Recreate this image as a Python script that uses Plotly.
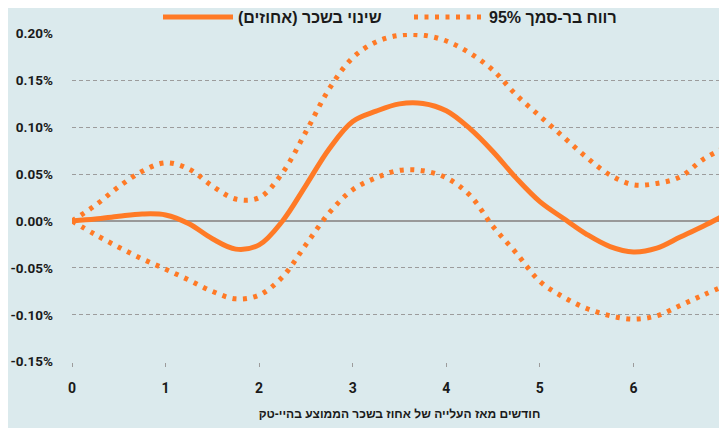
import plotly.graph_objects as go

# months since wage increase
months = [0, 0.25, 0.5, 0.75, 1, 1.25, 1.5, 1.75, 2, 2.25, 2.5, 2.75, 3, 3.25, 3.5, 3.75,
          4, 4.25, 4.5, 4.75, 5, 5.25, 5.5, 5.75, 6, 6.25, 6.5, 6.75, 7]

# change in wage (percent)
wage_change = [0.000, 0.002, 0.005, 0.0074, 0.0064, -0.003, -0.019, -0.030, -0.0255, 0.000,
               0.038, 0.077, 0.106, 0.117, 0.1248, 0.1252, 0.1174, 0.0986, 0.0738, 0.0454,
               0.0206, 0.0029, -0.0142, -0.0273, -0.033, -0.029, -0.0172, -0.0053, 0.0075]

# 95% confidence interval bounds
ci_upper = [0.000, 0.0167, 0.0365, 0.0529, 0.062, 0.0553, 0.0372, 0.0234, 0.0248, 0.0514,
            0.095, 0.141, 0.174, 0.1908, 0.1979, 0.198, 0.1918, 0.179, 0.1606, 0.134,
            0.1117, 0.0897, 0.0677, 0.049, 0.0386, 0.040, 0.047, 0.066, 0.079]

ci_lower = [0.000, -0.0146, -0.028, -0.0404, -0.0514, -0.063, -0.075, -0.083, -0.079, -0.0596,
            -0.0252, 0.0088, 0.0333, 0.046, 0.0539, 0.0535, 0.046, 0.0277, -0.006, -0.0344,
            -0.0645, -0.081, -0.0933, -0.101, -0.1046, -0.101, -0.0901, -0.0787, -0.068]

y_ticks = [-0.15, -0.10, -0.05, 0.00, 0.05, 0.10, 0.15, 0.20]
y_tick_labels = ["-0.15%", "-0.10%", "-0.05%", "0.00%", "0.05%", "0.10%", "0.15%", "0.20%"]
x_ticks = [0, 1, 2, 3, 4, 5, 6, 7]
x_tick_labels = ["0", "1", "2", "3", "4", "5", "6", "7"]

name_main = "\u200fשינוי בשכר (אחוזים)\u200f"
name_ci = "\u200fרווח בר-סמך 95%\u200f"
x_title = "חודשים מאז העלייה של אחוז בשכר הממוצע בהיי-טק"

ORANGE = "#FF7A26"
BG = "#dbeaed"
GRID = "#9c9c9c"
TXT = "#1a1a1a"
FONT = "Roboto, 'Liberation Sans', 'DejaVu Sans', sans-serif"
HEB = "'Liberation Sans', Arial, 'DejaVu Sans', sans-serif"

# the page body has an 8px margin, so the figure is sized to the visible area
W, H = 719, 420

fig = go.Figure()
fig.add_trace(go.Scatter(x=months, y=wage_change, mode="lines", name=name_main,
                         line=dict(color=ORANGE, width=5, shape="spline", smoothing=1.0),
                         legend="legend"))
fig.add_trace(go.Scatter(x=months, y=ci_upper, mode="lines", name=name_ci,
                         line=dict(color=ORANGE, width=5, shape="spline", smoothing=1.0, dash="4px,6.5px"),
                         legendgroup="ci", legend="legend2"))
fig.add_trace(go.Scatter(x=months, y=ci_lower, mode="lines", name=name_ci,
                         line=dict(color=ORANGE, width=5, shape="spline", smoothing=1.0, dash="4px,6.5px"),
                         legendgroup="ci", showlegend=False, legend="legend2"))

legend_common = dict(orientation="h", xanchor="left", yanchor="middle",
                     xref="container", yref="container", y=1 - 9 / H,
                     bgcolor="rgba(0,0,0,0)", itemwidth=70,
                     font=dict(family=HEB, size=16, color=TXT, weight="bold"))

fig.update_layout(
    width=W, height=H,
    margin=dict(l=64, r=0, t=25, b=66, autoexpand=False),
    paper_bgcolor=BG, plot_bgcolor=BG,
    font=dict(family=FONT, size=13, color=TXT),
    showlegend=True,
    legend=dict(x=150 / W, **legend_common),
    legend2=dict(x=401 / W, **legend_common),
    xaxis=dict(range=[0, 7], tickmode="array", tickvals=x_ticks, ticktext=x_tick_labels,
               showgrid=False, zeroline=False, automargin=False,
               ticks="outside", ticklen=4, tickcolor=GRID, tickwidth=1,
               tickfont=dict(family=FONT, size=14, weight="bold", color=TXT),
               ticklabelstandoff=9,
               title=dict(text=x_title, standoff=14,
                          font=dict(family=HEB, size=12, weight="bold", color=TXT)),
               fixedrange=True),
    yaxis=dict(range=[-0.1503, 0.2003], tickmode="array", tickvals=y_ticks, ticktext=y_tick_labels,
               showgrid=True, gridcolor=GRID, gridwidth=1, griddash="4px,3px",
               zeroline=True, zerolinecolor="#999999", zerolinewidth=2, automargin=False,
               tickfont=dict(family=FONT, size=13.5, weight="bold", color=TXT),
               ticklabelstandoff=18, fixedrange=True),
)

fig.write_html("out.html", config={"displayModeBar": False})
